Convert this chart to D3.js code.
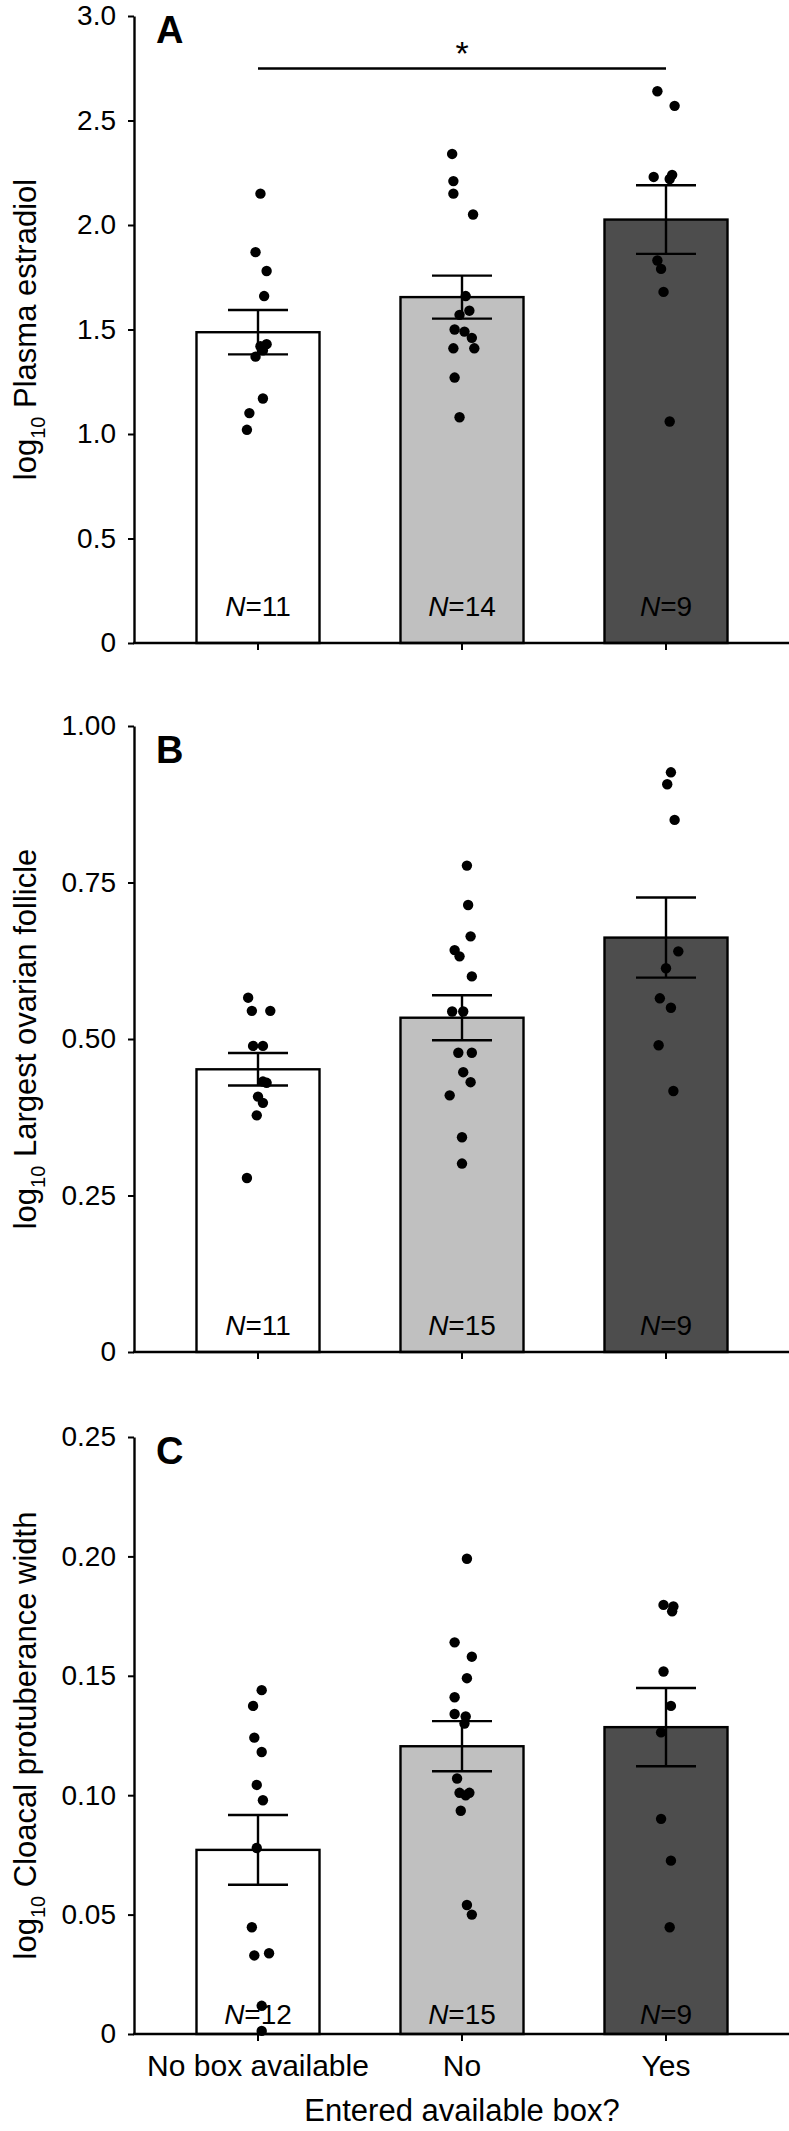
<!DOCTYPE html>
<html><head><meta charset="utf-8">
<script src="https://cdn.jsdelivr.net/npm/d3@7"></script>
<style>
body{margin:0;background:#fff}
svg text{font-family:"Liberation Sans",Arial,Helvetica,sans-serif;fill:#000}
</style>
</head><body>
<svg id="chart" width="789" height="2131"></svg>
<script>
// ---------- DATA ----------
const categories = ["No box available", "No", "Yes"];

// Panel A: log10 plasma estradiol
const aMeans = [1.487, 1.655, 2.026];
const aSE = [0.106, 0.103, 0.164];
const aN = [11, 14, 9];
const aPoints = [
  [2.15, 1.87, 1.78, 1.66, 1.43, 1.42, 1.40, 1.37, 1.17, 1.10, 1.02],
  [2.34, 2.21, 2.15, 2.05, 1.66, 1.59, 1.57, 1.50, 1.49, 1.46, 1.41, 1.41, 1.27, 1.08],
  [2.64, 2.57, 2.23, 2.24, 2.22, 1.83, 1.79, 1.68, 1.06]
];
const aJitter = [
  [0.02, -0.02, 0.07, 0.05, 0.07, 0.02, 0.04, -0.02, 0.04, -0.07, -0.09],
  [-0.08, -0.07, -0.07, 0.09, 0.03, 0.06, -0.02, -0.06, 0.02, 0.08, -0.07, 0.10, -0.06, -0.02],
  [-0.07, 0.07, -0.10, 0.05, 0.03, -0.07, -0.04, -0.02, 0.03]
];
const aTicks = [0, 0.5, 1.0, 1.5, 2.0, 2.5, 3.0];
const aTickLabels = ["0", "0.5", "1.0", "1.5", "2.0", "2.5", "3.0"];

// Panel B: log10 largest ovarian follicle
const bMeans = [0.4516, 0.534, 0.662];
const bSE = [0.026, 0.036, 0.064];
const bN = [11, 15, 9];
const bPoints = [
  [0.566, 0.545, 0.545, 0.489, 0.489, 0.432, 0.430, 0.408, 0.398, 0.378, 0.278],
  [0.777, 0.714, 0.664, 0.642, 0.632, 0.600, 0.544, 0.544, 0.478, 0.478, 0.447, 0.431, 0.410, 0.343, 0.301],
  [0.926, 0.907, 0.850, 0.640, 0.613, 0.565, 0.550, 0.490, 0.417]
];
const bJitter = [
  [-0.08, -0.05, 0.10, -0.04, 0.04, 0.04, 0.07, 0.00, 0.04, -0.01, -0.09],
  [0.04, 0.05, 0.07, -0.06, -0.02, 0.08, -0.08, 0.01, -0.03, 0.08, 0.01, 0.07, -0.10, 0.00, 0.00],
  [0.04, 0.01, 0.07, 0.10, 0.00, -0.05, 0.04, -0.06, 0.06]
];
const bTicks = [0, 0.25, 0.5, 0.75, 1.0];
const bTickLabels = ["0", "0.25", "0.50", "0.75", "1.00"];

// Panel C: log10 cloacal protuberance width
const cMeans = [0.0771, 0.1205, 0.1285];
const cSE = [0.0146, 0.0105, 0.0164];
const cN = [12, 15, 9];
const cPoints = [
  [0.144, 0.1374, 0.1241, 0.1181, 0.1043, 0.0979, 0.0779, 0.0447, 0.0338, 0.0329, 0.0118, 0.0013],
  [0.199, 0.164, 0.158, 0.149, 0.141, 0.134, 0.133, 0.130, 0.107, 0.101, 0.101, 0.100, 0.0935, 0.054, 0.050],
  [0.1797, 0.179, 0.177, 0.1518, 0.1374, 0.1263, 0.0901, 0.0726, 0.0447]
];
const cJitter = [
  [0.03, -0.04, -0.03, 0.03, -0.01, 0.04, -0.01, -0.05, 0.09, -0.03, 0.03, 0.03],
  [0.04, -0.06, 0.08, 0.04, -0.06, -0.06, 0.03, 0.02, -0.04, -0.02, 0.06, 0.03, -0.01, 0.04, 0.08],
  [-0.02, 0.06, 0.05, -0.02, 0.04, -0.04, -0.04, 0.04, 0.03]
];
const cTicks = [0, 0.05, 0.10, 0.15, 0.20, 0.25];
const cTickLabels = ["0", "0.05", "0.10", "0.15", "0.20", "0.25"];

const xTickLabels = ["No box available", "No", "Yes"];
const xTitle = "Entered available box?";

// ---------- DRAW ----------
const svg = d3.select("#chart");
const fills = ["#ffffff", "#c0c0c0", "#4d4d4d"];
const axisLeftX = 134, axisRightX = 789;

const x = d3.scaleBand().domain(categories).range([156, 768])
  .paddingInner(0.397).paddingOuter(0.1985);

const panels = [
  {letter: "A", top: 16, bottom: 643, max: 3.0, means: aMeans, se: aSE, n: aN, pts: aPoints, jit: aJitter,
   ticks: aTicks, labels: aTickLabels, title: "Plasma estradiol", letterY: 43, nY: 616, sig: true},
  {letter: "B", top: 726, bottom: 1352, max: 1.0, means: bMeans, se: bSE, n: bN, pts: bPoints, jit: bJitter,
   ticks: bTicks, labels: bTickLabels, title: "Largest ovarian follicle", letterY: 763, nY: 1335},
  {letter: "C", top: 1437, bottom: 2034, max: 0.25, means: cMeans, se: cSE, n: cN, pts: cPoints, jit: cJitter,
   ticks: cTicks, labels: cTickLabels, title: "Cloacal protuberance width", letterY: 1464, nY: 2024, xlabels: true}
];

panels.forEach(p => {
  const y = d3.scaleLinear().domain([0, p.max]).range([p.bottom, p.top]);
  const g = svg.append("g");

  g.selectAll("rect.bar").data(categories).join("rect")
    .attr("x", d => x(d)).attr("y", (d, i) => y(p.means[i]))
    .attr("width", x.bandwidth()).attr("height", (d, i) => y(0) - y(p.means[i]))
    .attr("fill", (d, i) => fills[i]).attr("stroke", "#000").attr("stroke-width", 2.4);

  g.selectAll("text.n").data(categories).join("text")
    .attr("x", d => x(d) + x.bandwidth() / 2).attr("y", p.nY)
    .attr("text-anchor", "middle").style("font-size", "28px")
    .each(function(d, i) {
      const t = d3.select(this);
      t.append("tspan").style("font-style", "italic").text("N");
      t.append("tspan").text("=" + p.n[i]);
    });

  categories.forEach((c, i) => {
    const cx = x(c) + x.bandwidth() / 2;
    g.selectAll(null).data(p.pts[i]).join("circle")
      .attr("cx", (v, j) => cx + p.jit[i][j] * x.bandwidth())
      .attr("cy", v => y(v)).attr("r", 5.2).attr("fill", "#000");
  });

  categories.forEach((c, i) => {
    const cx = x(c) + x.bandwidth() / 2;
    const hi = y(p.means[i] + p.se[i]), lo = y(p.means[i] - p.se[i]);
    const eg = g.append("g").attr("stroke", "#000").attr("stroke-width", 2.4);
    eg.append("line").attr("x1", cx).attr("x2", cx).attr("y1", hi).attr("y2", lo);
    eg.append("line").attr("x1", cx - 30).attr("x2", cx + 30).attr("y1", hi).attr("y2", hi);
    eg.append("line").attr("x1", cx - 30).attr("x2", cx + 30).attr("y1", lo).attr("y2", lo);
  });

  const ya = g.append("g").attr("transform", `translate(${axisLeftX},0)`)
    .call(d3.axisLeft(y).tickValues(p.ticks).tickSize(6).tickSizeOuter(0).tickPadding(12)
      .tickFormat((d, i) => p.labels[i]));
  ya.select(".domain").attr("stroke", "#000").attr("stroke-width", 2.4);
  ya.selectAll(".tick line").attr("stroke", "#000").attr("stroke-width", 2);
  ya.selectAll(".tick text").style("font-size", "28px").attr("font-family", null);

  g.append("line").attr("x1", axisLeftX - 1).attr("x2", axisRightX)
    .attr("y1", y(0)).attr("y2", y(0)).attr("stroke", "#000").attr("stroke-width", 2.4);
  const xa = g.append("g").attr("transform", `translate(0,${y(0)})`)
    .call(d3.axisBottom(x).tickSize(7).tickSizeOuter(0).tickPadding(14)
      .tickFormat((d, i) => p.xlabels ? xTickLabels[i] : ""));
  xa.select(".domain").remove();
  xa.selectAll(".tick line").attr("stroke", "#000").attr("stroke-width", 2);
  xa.selectAll(".tick text").style("font-size", "30px").attr("font-family", null);

  g.append("text").attr("x", 156).attr("y", p.letterY).style("font-size", "38px")
    .style("font-weight", "bold").text(p.letter);

  const yt = g.append("text")
    .attr("transform", `translate(36,${(p.top + p.bottom) / 2}) rotate(-90)`)
    .attr("text-anchor", "middle").style("font-size", "31px");
  yt.append("tspan").text("log");
  yt.append("tspan").attr("dy", 9).style("font-size", "20px").text("10");
  yt.append("tspan").attr("dy", -9).text(" " + p.title);

  if (p.sig) {
    const x1 = x(categories[0]) + x.bandwidth() / 2, x2 = x(categories[2]) + x.bandwidth() / 2;
    g.append("line").attr("x1", x1).attr("x2", x2).attr("y1", 68.5).attr("y2", 68.5)
      .attr("stroke", "#000").attr("stroke-width", 2.4);
    g.append("text").attr("x", (x1 + x2) / 2).attr("y", 65).attr("text-anchor", "middle")
      .style("font-size", "34px").text("*");
  }

  if (p.xlabels) {
    g.append("text").attr("x", (x(categories[0]) + x(categories[2]) + x.bandwidth()) / 2)
      .attr("y", 2121).attr("text-anchor", "middle").style("font-size", "31px").text(xTitle);
  }
});
</script>
</body></html>
